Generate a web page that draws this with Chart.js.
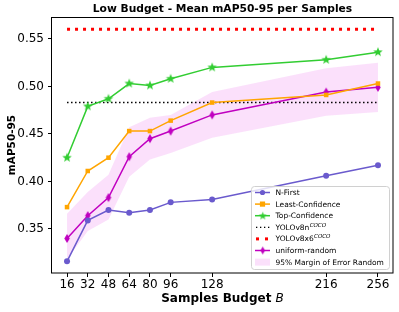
<!DOCTYPE html>
<html lang="en">
<head>
<meta charset="utf-8"/>
<title>Low Budget - Mean mAP50-95 per Samples</title>
<script src="https://cdn.jsdelivr.net/npm/chart.js"></script>
<style>
html, body { margin: 0; padding: 0; background: #fff; }
#wrap { width: 399px; height: 312px; }
</style>
</head>
<body>
<div id="wrap"><canvas id="chart" width="399" height="312"></canvas></div>
<script>
const budgets = [16, 32, 48, 64, 80, 96, 128, 216, 256];
const nFirst = [0.316, 0.359, 0.370, 0.367, 0.370, 0.378, 0.381, 0.406, 0.417];
const leastConf = [0.373, 0.411, 0.425, 0.453, 0.453, 0.464, 0.483, 0.491, 0.503];
const topConf = [0.425, 0.479, 0.487, 0.503, 0.501, 0.508, 0.520, 0.528, 0.536];
const uniformRandom = [0.340, 0.364, 0.383, 0.426, 0.445, 0.453, 0.470, 0.494, 0.499];
const bandLower = [0.318, 0.348, 0.360, 0.405, 0.423, 0.430, 0.446, 0.469, 0.473];
const bandUpper = [0.366, 0.389, 0.407, 0.457, 0.467, 0.470, 0.494, 0.519, 0.525];
const yolo8n = 0.483;
const yolo8x6 = 0.560;
const yTicks = [0.35, 0.40, 0.45, 0.50, 0.55];

const C_NFIRST = '#6A5ACD';
const C_LEAST = '#FFA500';
const C_TOP = '#32CD32';
const C_RAND = '#C000C0';
const C_BAND = 'rgba(238,130,238,0.25)';

function pts(vals) { return budgets.map((b, i) => ({ x: b, y: vals[i] })); }

// filled star like matplotlib '*'
function starImg(color, r) {
  const c = document.createElement('canvas');
  c.width = c.height = Math.ceil(r * 2 + 2);
  const g = c.getContext('2d');
  const cx = c.width / 2, cy = c.height / 2;
  g.beginPath();
  for (let i = 0; i < 10; i++) {
    const rr = i % 2 ? r * 0.42 : r;
    const a = -Math.PI / 2 + i * Math.PI / 5;
    g.lineTo(cx + rr * Math.cos(a), cy + rr * Math.sin(a));
  }
  g.closePath();
  g.fillStyle = color; g.fill();
  return c;
}
// thin diamond like matplotlib 'd'
function diamondImg(color, w, h) {
  const c = document.createElement('canvas');
  c.width = Math.ceil(w + 2); c.height = Math.ceil(h + 2);
  const g = c.getContext('2d');
  const cx = c.width / 2, cy = c.height / 2;
  g.beginPath();
  g.moveTo(cx, cy - h / 2); g.lineTo(cx + w / 2, cy);
  g.lineTo(cx, cy + h / 2); g.lineTo(cx - w / 2, cy);
  g.closePath();
  g.fillStyle = color; g.fill();
  return c;
}
const star = starImg(C_TOP, 5);
const diamond = diamondImg(C_RAND, 5.5, 9);

const lineDs = (label, vals, color, extra) => Object.assign({
  label, data: pts(vals), borderColor: color, backgroundColor: color,
  borderWidth: 1.5, pointRadius: 3, pointBorderWidth: 0, fill: false, tension: 0
}, extra);

const frame = {
  id: 'frame',
  afterDraw(chart) {
    const { ctx, chartArea: a } = chart;
    ctx.save();
    ctx.strokeStyle = '#000'; ctx.lineWidth = 1;
    ctx.strokeRect(a.left - 0.5, a.top + 0.5, a.right - a.left + 0.5, a.bottom - a.top - 0.5);

    // titles
    ctx.fillStyle = '#000';
    ctx.textAlign = 'center'; ctx.textBaseline = 'middle';
    const cx = (a.left + a.right) / 2;
    ctx.font = 'bold 10.7px "DejaVu Sans"';
    ctx.fillText('Low Budget - Mean mAP50-95 per Samples', cx, 9);

    ctx.font = 'bold 12px "DejaVu Sans"';
    const t1 = 'Samples Budget ';
    const w1 = ctx.measureText(t1).width;
    ctx.font = 'oblique 12px "DejaVu Sans"';
    const w2 = ctx.measureText('B').width;
    const sx = cx - (w1 + w2) / 2;
    ctx.textAlign = 'left';
    ctx.font = 'bold 12px "DejaVu Sans"';
    ctx.fillText(t1, sx, 299);
    ctx.font = 'oblique 12px "DejaVu Sans"';
    ctx.fillText('B', sx + w1, 299);

    ctx.save();
    ctx.translate(12, (a.top + a.bottom) / 2);
    ctx.rotate(-Math.PI / 2);
    ctx.textAlign = 'center';
    ctx.font = 'bold 10.5px "DejaVu Sans"';
    ctx.fillText('mAP50-95', 0, 0);
    ctx.restore();

    // legend
    const lx = 251, ly = 186, lw = 138, lh = 83;
    ctx.beginPath();
    ctx.roundRect(lx + 0.5, ly + 0.5, lw, lh, 3);
    ctx.fillStyle = 'rgba(255,255,255,0.8)'; ctx.fill();
    ctx.strokeStyle = '#d0d0d0'; ctx.lineWidth = 1; ctx.stroke();

    const rows = [
      { t: 'N-First', kind: 'line', c: C_NFIRST, m: 'circle' },
      { t: 'Least-Confidence', kind: 'line', c: C_LEAST, m: 'square' },
      { t: 'Top-Confidence', kind: 'line', c: C_TOP, m: 'star' },
      { t: 'YOLOv8n', sup: 'COCO', kind: 'dot', c: '#000' },
      { t: 'YOLOv8x6', sup: 'COCO', kind: 'bigdot', c: '#ff0000' },
      { t: 'uniform-random', kind: 'line', c: C_RAND, m: 'diamond' },
      { t: '95% Margin of Error Random', kind: 'patch' }
    ];
    const h0 = 255, h1 = 270, hm = 262.5, tx = 275.5;
    rows.forEach((r, i) => {
      const y = 192.5 + i * 11.6;
      ctx.save();
      if (r.kind === 'line') {
        ctx.strokeStyle = r.c; ctx.lineWidth = 1.5;
        ctx.beginPath(); ctx.moveTo(h0, y); ctx.lineTo(h1, y); ctx.stroke();
        ctx.fillStyle = r.c;
        if (r.m === 'circle') { ctx.beginPath(); ctx.arc(hm, y, 2.6, 0, Math.PI * 2); ctx.fill(); }
        if (r.m === 'square') ctx.fillRect(hm - 2.6, y - 2.6, 5.2, 5.2);
        if (r.m === 'star') ctx.drawImage(starImg(C_TOP, 4.2), hm - 5.2, y - 5.2);
        if (r.m === 'diamond') ctx.drawImage(diamondImg(C_RAND, 4.5, 8), hm - 3.25, y - 5);
      } else if (r.kind === 'dot') {
        ctx.fillStyle = '#000';
        for (let k = 0; k < 4; k++) ctx.fillRect(h0 + 1 + k * 4, y - 0.6, 1.3, 1.3);
      } else if (r.kind === 'bigdot') {
        ctx.fillStyle = '#ff0000';
        ctx.fillRect(h0 + 1, y - 1.5, 3, 3);
        ctx.fillRect(h0 + 10, y - 1.5, 3, 3);
      } else {
        ctx.fillStyle = C_BAND;
        ctx.fillRect(h0, y - 3.5, 15, 7);
      }
      ctx.restore();
      ctx.fillStyle = '#000';
      ctx.textAlign = 'left'; ctx.textBaseline = 'middle';
      ctx.font = '7.5px "DejaVu Sans"';
      ctx.fillText(r.t, tx, y + 0.5);
      if (r.sup) {
        const w = ctx.measureText(r.t).width;
        ctx.font = 'oblique 5.5px "DejaVu Sans"';
        ctx.fillText(r.sup, tx + w + 0.3, y - 2);
      }
    });
    ctx.restore();
  }
};

new Chart(document.getElementById('chart'), {
  type: 'line',
  data: {
    datasets: [
      lineDs('N-First', nFirst, C_NFIRST, { pointStyle: 'circle', pointRadius: 3 }),
      lineDs('Least-Confidence', leastConf, C_LEAST, { pointStyle: 'rect', pointRadius: 3.2 }),
      lineDs('Top-Confidence', topConf, C_TOP, { pointStyle: star }),
      {
        label: 'YOLOv8n', data: [{ x: budgets[0], y: yolo8n }, { x: budgets[budgets.length - 1], y: yolo8n }],
        borderColor: '#000', borderWidth: 1.5, borderDash: [1.5, 2.5], pointRadius: 0, fill: false, order: 3
      },
      {
        label: 'YOLOv8x6', data: [{ x: budgets[0], y: yolo8x6 }, { x: budgets[budgets.length - 1], y: yolo8x6 }],
        borderColor: '#ff0000', borderWidth: 3, borderDash: [3, 5], pointRadius: 0, fill: false, order: 3
      },
      lineDs('uniform-random', uniformRandom, C_RAND, { pointStyle: diamond }),
      {
        label: 'band-lower', data: pts(bandLower), borderWidth: 0, borderColor: 'rgba(0,0,0,0)',
        pointRadius: 0, fill: false, order: 10
      },
      {
        label: '95% Margin of Error Random', data: pts(bandUpper), borderWidth: 0, borderColor: 'rgba(0,0,0,0)',
        backgroundColor: C_BAND, pointRadius: 0, fill: '-1', order: 10
      }
    ]
  },
  options: {
    responsive: false,
    animation: false,
    events: [],
    layout: { padding: { top: 17, right: 6, left: 0, bottom: 0 } },
    plugins: { legend: { display: false }, title: { display: false }, tooltip: { enabled: false } },
    scales: {
      x: {
        type: 'linear', min: 4.4, max: 267.6,
        afterBuildTicks: ax => { ax.ticks = budgets.map(v => ({ value: v })); },
        afterFit: ax => { ax.height = 39; },
        ticks: { autoSkip: false, maxRotation: 0, padding: 1, color: '#000', font: { family: 'DejaVu Sans', size: 12 } },
        grid: { display: true, drawOnChartArea: false, drawTicks: true, tickLength: 4, color: '#000' },
        border: { display: false }
      },
      y: {
        min: 0.3037, max: 0.573,
        afterBuildTicks: ax => { ax.ticks = yTicks.map(v => ({ value: v })); },
        afterFit: ax => { ax.width = 52; },
        ticks: { padding: 4, color: '#000', font: { family: 'DejaVu Sans', size: 12 }, callback: v => v.toFixed(2) },
        grid: { display: true, drawOnChartArea: false, drawTicks: true, tickLength: 4, color: '#000' },
        border: { display: false }
      }
    }
  },
  plugins: [frame]
});
</script>
</body>
</html>
